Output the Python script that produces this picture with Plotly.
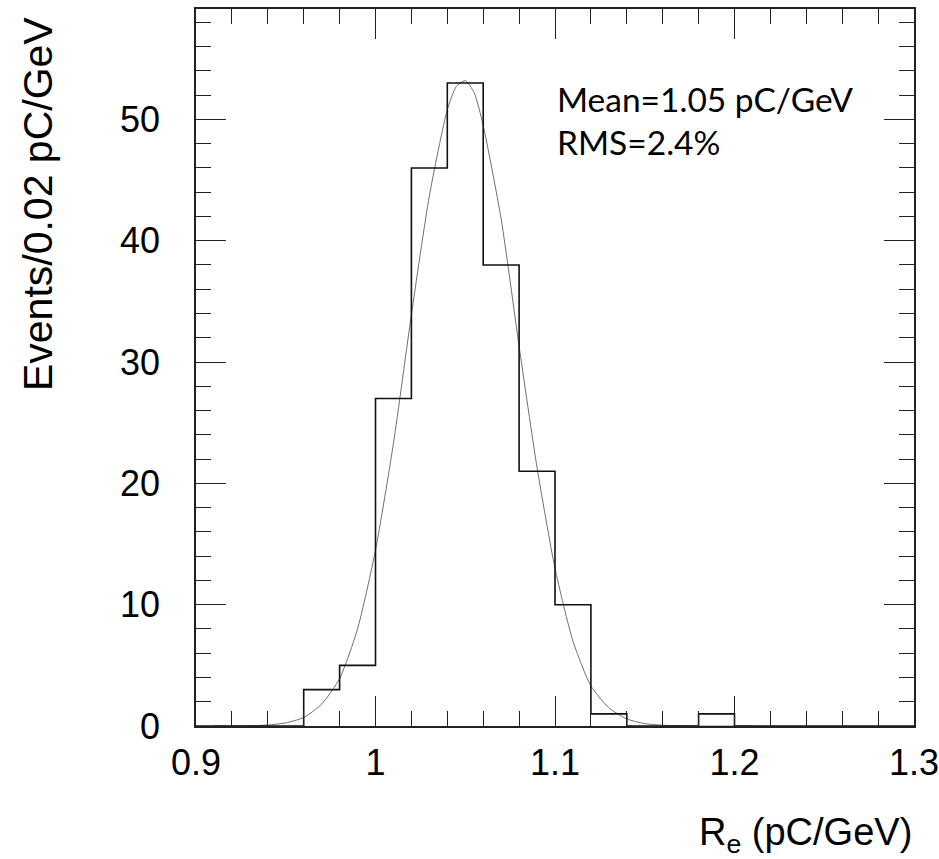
import plotly.graph_objects as go

# Histogram: bin edges (pC/GeV) and counts per 0.02 bin
bin_edges = [0.90, 0.92, 0.94, 0.96, 0.98, 1.00, 1.02, 1.04, 1.06, 1.08, 1.10,
             1.12, 1.14, 1.16, 1.18, 1.20, 1.22, 1.24, 1.26, 1.28, 1.30]
counts = [0, 0, 0, 3, 5, 27, 46, 53, 38, 21, 10, 1, 0, 0, 1, 0, 0, 0, 0, 0]

# Fit curve
fit_x = [0.91, 0.92, 0.93, 0.94, 0.95, 0.96, 0.97, 0.98, 0.99, 1.00, 1.01, 1.02,
         1.03, 1.04, 1.045, 1.05, 1.055, 1.06, 1.07, 1.08, 1.09, 1.10, 1.11,
         1.12, 1.13, 1.14, 1.15, 1.16, 1.18, 1.21]
fit_y = [0.0, 0.0, 0.02, 0.08, 0.26, 0.7, 1.8, 3.9, 8.0, 14.5, 23.3, 33.9,
         43.7, 50.8, 52.7, 53.2, 52.2, 49.5, 41.8, 31.3, 21.3, 13.0, 7.0,
         3.3, 1.5, 0.58, 0.2, 0.06, 0.0, 0.0]

x_ticks = [0.9, 1.0, 1.1, 1.2, 1.3]
x_ticklabels = ["0.9", "1", "1.1", "1.2", "1.3"]
y_ticks = [0, 10, 20, 30, 40, 50]

mean_text = "Mean=1.05 pC/GeV"
rms_text = "RMS=2.4%"

step_x = bin_edges
step_y = counts + [counts[-1]]

fig = go.Figure()
fig.add_trace(go.Scatter(x=fit_x, y=fit_y, mode="lines",
                         line=dict(color="#707070", width=1.0, shape="spline", smoothing=0.6),
                         hoverinfo="skip", showlegend=False))
fig.add_trace(go.Scatter(x=step_x, y=step_y, mode="lines",
                         line=dict(color="#111111", width=1.6, shape="hv"),
                         showlegend=False))

axis_font = dict(family="Liberation Sans, Arial, sans-serif", size=36, color="black")

fig.update_layout(
    width=939, height=859,
    margin=dict(l=196, r=25, t=9, b=133),
    paper_bgcolor="white", plot_bgcolor="white",
    font=axis_font,
    xaxis=dict(range=[0.9, 1.3], tickvals=x_ticks, ticktext=x_ticklabels,
               ticks="inside", ticklen=30, tickwidth=1.3, tickcolor="#222",
               minor=dict(dtick=0.02, tick0=0.9, ticks="inside", ticklen=15,
                          tickwidth=1.3, tickcolor="#222", showgrid=False),
               showline=True, linecolor="#222", linewidth=1.5, mirror="allticks",
               showgrid=False, zeroline=False, tickfont=axis_font,
               ticklabelstandoff=4, ticklabeloverflow="allow", automargin=False),
    yaxis=dict(range=[0, 59.1], tickvals=y_ticks,
               ticks="inside", ticklen=30, tickwidth=1.3, tickcolor="#222",
               minor=dict(dtick=2, tick0=0, ticks="inside", ticklen=15,
                          tickwidth=1.3, tickcolor="#222", showgrid=False),
               showline=True, linecolor="#222", linewidth=1.5, mirror="allticks",
               showgrid=False, zeroline=False, tickfont=axis_font,
               ticklabelstandoff=27, ticklabeloverflow="allow", automargin=False),
)

fig.add_annotation(text=mean_text, x=1.1, y=0.8744, xref="x", yref="paper",
                   xanchor="left", yanchor="middle", showarrow=False,
                   font=dict(family="Lato, Carlito, sans-serif", size=33.5, color="black"))
fig.add_annotation(text=rms_text, x=1.1, y=0.8144, xref="x", yref="paper",
                   xanchor="left", yanchor="middle", showarrow=False,
                   font=dict(family="Lato, Carlito, sans-serif", size=33.5, color="black"))

fig.add_annotation(text="Events/0.02 pC/GeV", textangle=-90,
                   x=-0.22, y=0.9916, xref="paper", yref="paper",
                   xanchor="center", yanchor="top", showarrow=False,
                   font=dict(family="Liberation Sans, Arial, sans-serif", size=41, color="black"))
fig.add_annotation(text="R<sub>e</sub> (pC/GeV)",
                   x=1.0, y=-0.1525, xref="paper", yref="paper",
                   xanchor="right", yanchor="middle", showarrow=False,
                   font=dict(family="Liberation Sans, Arial, sans-serif", size=38, color="black"))

fig.write_html("out.html", config={"displayModeBar": False},
               post_script="document.body.style.margin='0px';document.body.style.overflow='hidden';")
